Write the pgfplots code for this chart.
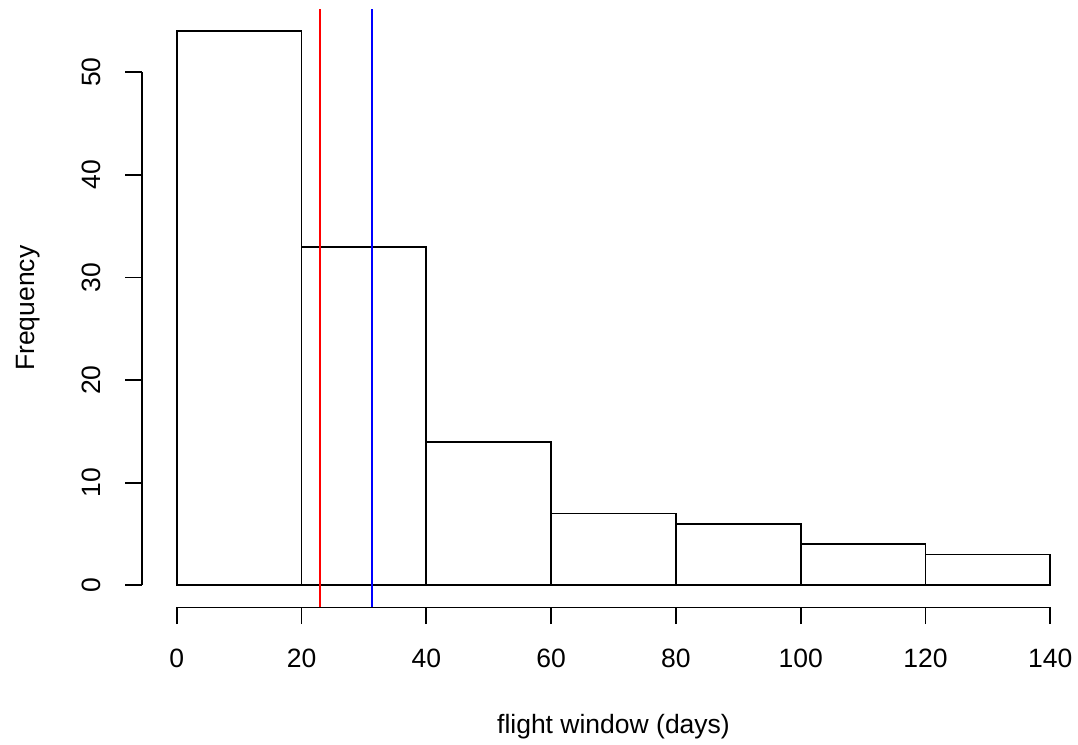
\documentclass[border=0pt]{standalone}
\usepackage{fontspec}
\setmainfont{Liberation Sans}
\usepackage{pgfplots}
\pgfplotsset{compat=1.18}

% 1 px of the reference = 0.5pt
\newcommand{\rfont}{\fontsize{13.25}{15}\selectfont}
\definecolor{rred}{RGB}{255,0,0}
\definecolor{rblue}{RGB}{0,0,255}

\begin{document}
\begin{tikzpicture}
\begin{axis}[
    scale only axis,
    width=471.7pt,
    height=299.2pt,
    xmin=-5.6, xmax=145.6,
    ymin=-2.16, ymax=56.16,
    clip=false,
    axis x line*=bottom,
    axis y line*=left,
    axis line style={draw=none},
    tick align=outside,
    major tick length=8.35pt,
    every tick/.style={black, line width=0.9pt},
    xtick={0,20,...,140},
    ytick={0,10,...,50},
    minor tick num=0,
    /pgf/number format/assume math mode=true,
    every tick label/.append style={font=\rfont},
    xticklabel style={anchor=center, yshift=-17pt},
    yticklabel style={xshift=-17pt, rotate=90, anchor=center},
    xlabel={flight window (days)},
    ylabel={Frequency},
    every axis x label/.style={at={(axis cs:70,-14.41)}, anchor=base, font=\rfont},
    every axis y label/.style={at={(axis cs:-22.87,27)}, rotate=90, anchor=base, font=\rfont},
]
% histogram
\addplot[ybar interval, draw=black, fill=white, line width=0.9pt] coordinates {
    (0,54) (20,33) (40,14) (60,7) (80,6) (100,4) (120,3) (140,3)
};
% axis lines spanning the ticks only
\addplot[black, line width=0.9pt] coordinates {(0,-2.16) (140,-2.16)};
\addplot[black, line width=0.9pt] coordinates {(-5.6,0) (-5.6,50)};
% median and mean
\addplot[color=rred, line width=1pt] coordinates {(23,-2.16) (23,56.16)};
\addplot[color=rblue, line width=1pt] coordinates {(31.3,-2.16) (31.3,56.16)};
\coordinate (bl) at (axis cs:-28.32,-15.48);
\coordinate (tr) at (axis cs:144.44,57.04);
\end{axis}
\pgfresetboundingbox
\path[use as bounding box] (bl) rectangle (tr);
\end{tikzpicture}
\end{document}
